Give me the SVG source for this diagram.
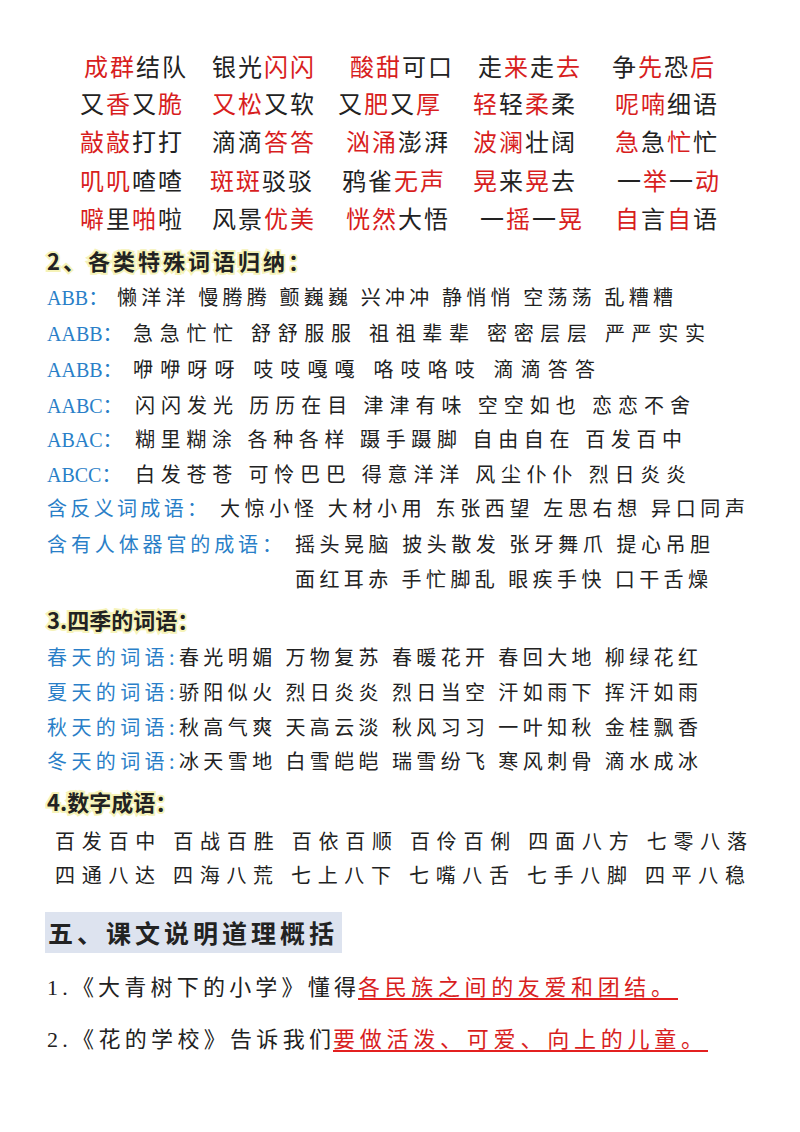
<svg xmlns="http://www.w3.org/2000/svg" width="800" height="1132" viewBox="0 0 800 1132">
<style>
text{font-family:"Noto Sans CJK SC","Liberation Serif",sans-serif;fill:#222}
.g{font-size:24px;letter-spacing:2px}
.r{fill:#d81e1e}
.b{fill:#2a7fc8}
.l{font-size:20px}
.h{font-size:22px;font-weight:bold;stroke:#f6f3b8;stroke-width:4px;paint-order:stroke}
.lat{font-family:"Liberation Serif",serif}
</style>
<rect width="800" height="1132" fill="#fff"/>
<g id="grid" class="g">
<text class="g" y="76"><tspan x="84" class="r">成群</tspan>结队<tspan x="212">银光</tspan><tspan class="r">闪闪</tspan><tspan x="350" class="r">酸甜</tspan>可口<tspan x="478">走</tspan><tspan class="r">来</tspan>走<tspan class="r">去</tspan><tspan x="612">争</tspan><tspan class="r">先</tspan>恐<tspan class="r">后</tspan></text>
<text class="g" y="113"><tspan x="80">又</tspan><tspan class="r">香</tspan>又<tspan class="r">脆</tspan><tspan x="212" class="r">又松</tspan>又软<tspan x="338">又</tspan><tspan class="r">肥</tspan>又<tspan class="r">厚</tspan><tspan x="473" class="r">轻</tspan>轻<tspan class="r">柔</tspan>柔<tspan x="615" class="r">呢喃</tspan>细语</text>
<text class="g" y="151"><tspan x="80" class="r">敲敲</tspan>打打<tspan x="212">滴滴</tspan><tspan class="r">答答</tspan><tspan x="346" class="r">汹涌</tspan>澎湃<tspan x="473" class="r">波澜</tspan>壮阔<tspan x="615" class="r">急</tspan>急<tspan class="r">忙</tspan>忙</text>
<text class="g" y="190"><tspan x="80" class="r">叽叽</tspan>喳喳<tspan x="210" class="r">斑斑</tspan>驳驳<tspan x="342">鸦雀</tspan><tspan class="r">无声</tspan><tspan x="473" class="r">晃</tspan>来<tspan class="r">晃</tspan>去<tspan x="617">一</tspan><tspan class="r">举</tspan>一<tspan class="r">动</tspan></text>
<text class="g" y="228"><tspan x="80" class="r">噼</tspan>里<tspan class="r">啪</tspan>啦<tspan x="212">风景</tspan><tspan class="r">优美</tspan><tspan x="346" class="r">恍然</tspan>大悟<tspan x="480">一</tspan><tspan class="r">摇</tspan>一<tspan class="r">晃</tspan><tspan x="615" class="r">自</tspan>言<tspan class="r">自</tspan>语</text>
</g>
<g id="sec2">
<text class="h" x="47" y="270" textLength="263" lengthAdjust="spacing">2、各类特殊词语归纳：</text>
<text class="l b" x="47" y="305"><tspan class="lat">ABB</tspan>：</text>
<text class="l" x="117" y="305" textLength="556" lengthAdjust="spacing">懒洋洋 慢腾腾 颤巍巍 兴冲冲 静悄悄 空荡荡 乱糟糟</text>
<text class="l b" x="47" y="341"><tspan class="lat">AABB</tspan>：</text>
<text class="l" x="133" y="341" textLength="572" lengthAdjust="spacing">急急忙忙  舒舒服服  祖祖辈辈  密密层层  严严实实</text>
<text class="l b" x="47" y="377"><tspan class="lat">AABB</tspan>：</text>
<text class="l" x="133" y="377" textLength="462" lengthAdjust="spacing">咿咿呀呀   吱吱嘎嘎    咯吱咯吱   滴滴答答</text>
<text class="l b" x="47" y="413"><tspan class="lat">AABC</tspan>：</text>
<text class="l" x="135" y="413" textLength="555" lengthAdjust="spacing">闪闪发光  历历在目   津津有味  空空如也  恋恋不舍</text>
<text class="l b" x="47" y="447"><tspan class="lat">ABAC</tspan>：</text>
<text class="l" x="135" y="447" textLength="547" lengthAdjust="spacing">糊里糊涂  各种各样  蹑手蹑脚   自由自在  百发百中</text>
<text class="l b" x="47" y="482"><tspan class="lat">ABCC</tspan>：</text>
<text class="l" x="135" y="482" textLength="551" lengthAdjust="spacing">白发苍苍  可怜巴巴   得意洋洋  风尘仆仆  烈日炎炎</text>
<text class="l b" x="47" y="516" textLength="160" lengthAdjust="spacing">含反义词成语：</text>
<text class="l" x="220" y="516" textLength="525" lengthAdjust="spacing">大惊小怪 大材小用 东张西望 左思右想 异口同声</text>
<text class="l b" x="47" y="552" textLength="235" lengthAdjust="spacing">含有人体器官的成语：</text>
<text class="l" x="295" y="552" textLength="415" lengthAdjust="spacing">摇头晃脑 披头散发 张牙舞爪 提心吊胆</text>
<text class="l" x="295" y="587" textLength="413" lengthAdjust="spacing">面红耳赤 手忙脚乱 眼疾手快 口干舌燥</text>
</g>
<g id="sec3">
<text class="h" x="47" y="629">3.四季的词语：</text>
<text class="l" x="47" y="665" textLength="651" lengthAdjust="spacing"><tspan class="b">春天的词语:</tspan>春光明媚 万物复苏 春暖花开 春回大地 柳绿花红</text>
<text class="l" x="47" y="700" textLength="651" lengthAdjust="spacing"><tspan class="b">夏天的词语:</tspan>骄阳似火 烈日炎炎 烈日当空 汗如雨下 挥汗如雨</text>
<text class="l" x="47" y="735" textLength="651" lengthAdjust="spacing"><tspan class="b">秋天的词语:</tspan>秋高气爽 天高云淡 秋风习习 一叶知秋 金桂飘香</text>
<text class="l" x="47" y="769" textLength="651" lengthAdjust="spacing"><tspan class="b">冬天的词语:</tspan>冰天雪地 白雪皑皑 瑞雪纷飞 寒风刺骨 滴水成冰</text>
</g>
<g id="sec4">
<text class="h" x="47" y="811">4.数字成语：</text>
<text class="l" x="55" y="849" textLength="692" lengthAdjust="spacing">百发百中  百战百胜  百依百顺  百伶百俐  四面八方  七零八落</text>
<text class="l" x="55" y="883" textLength="690" lengthAdjust="spacing">四通八达  四海八荒  七上八下  七嘴八舌  七手八脚  四平八稳</text>
</g>
<g id="sec5">
<rect x="45" y="912" width="297" height="41" fill="#dde3ef"/>
<text x="48" y="943" style="font-size:25px;font-weight:bold" textLength="286" lengthAdjust="spacing">五、课文说明道理概括</text>
<text x="47" y="995" style="font-size:22px" textLength="309" lengthAdjust="spacing"><tspan class="lat">1.</tspan>《大青树下的小学》懂得</text>
<text x="358" y="995" class="r" style="font-size:22px" textLength="315" lengthAdjust="spacing">各民族之间的友爱和团结。</text>
<line x1="358" y1="999" x2="678" y2="999" stroke="#e32020" stroke-width="2"/>
<text x="47" y="1047" style="font-size:22px" textLength="284" lengthAdjust="spacing"><tspan class="lat">2.</tspan>《花的学校》告诉我们</text>
<text x="333" y="1047" class="r" style="font-size:22px" textLength="370" lengthAdjust="spacing">要做活泼、可爱、向上的儿童。</text>
<line x1="333" y1="1051" x2="708" y2="1051" stroke="#e32020" stroke-width="2"/>
</g>
</svg>
